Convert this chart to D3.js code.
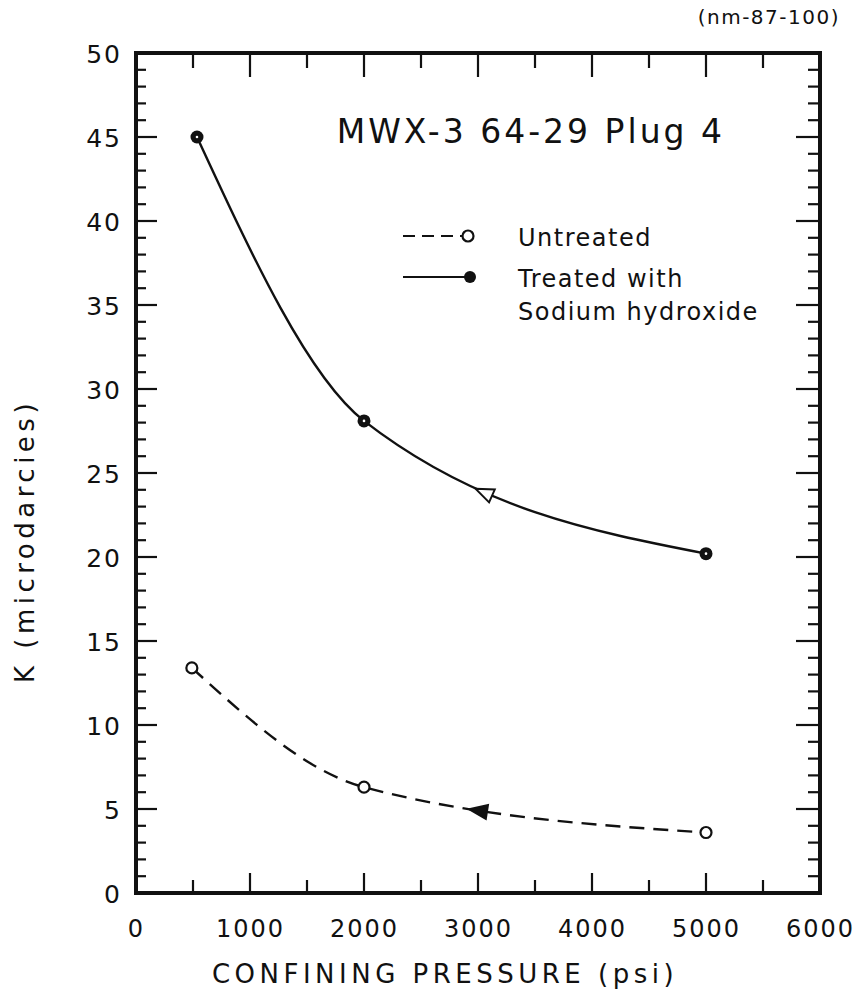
<!DOCTYPE html>
<html>
<head>
<meta charset="utf-8">
<script src="https://cdn.jsdelivr.net/npm/d3@7"></script>
<style>
  html, body { margin: 0; padding: 0; background: #fff; }
  svg { display: block; }
  text { font-family: "DejaVu Sans", "Liberation Sans", sans-serif; fill: #111; }
</style>
</head>
<body>
<svg id="chart" width="864" height="995"></svg>
<script>
// ---- data ----
const xTickValues = [0, 1000, 2000, 3000, 4000, 5000, 6000];
const xTickLabels = ["0", "1000", "2000", "3000", "4000", "5000", "6000"];
const yTickValues = [0, 5, 10, 15, 20, 25, 30, 35, 40, 45, 50];
const yTickLabels = ["0", "5", "10", "15", "20", "25", "30", "35", "40", "45", "50"];

const untreatedPressure = [490, 2000, 5000];
const untreatedK = [13.4, 6.3, 3.6];
const treatedPressure = [535, 2000, 5000];
const treatedK = [45, 28.1, 20.2];
// positions (pressure) of the direction arrows: [treated, untreated]
const arrowPressure = [3050, 3000];

const seriesNames = ["Untreated", "Treated with", "Sodium hydroxide"];
const chartTitle = "MWX-3 64-29 Plug 4";
const chartNote = "(nm-87-100)";
const xTitle = "CONFINING PRESSURE (psi)";
const yTitle = "K (microdarcies)";

// ---- layout ----
const svg = d3.select("#chart");
const x = d3.scaleLinear().domain([0, 6000]).range([136, 820]);
const y = d3.scaleLinear().domain([0, 50]).range([893, 53]);

const xMinor = d3.range(500, 6000, 500);
const yMinor = d3.range(1, 50, 1);
function isMajorX(v) { return v % 1000 === 0; }
function isMajorY(v) { return v % 5 === 0; }

const tickG = svg.append("g").attr("stroke", "#111").attr("stroke-width", 2.2);
tickG.selectAll(".tb").data(xMinor).join("line")
  .attr("x1", d => x(d)).attr("x2", d => x(d))
  .attr("y1", y(0)).attr("y2", d => y(0) - (isMajorX(d) ? 20 : 13));
tickG.selectAll(".tt").data(xMinor).join("line")
  .attr("x1", d => x(d)).attr("x2", d => x(d))
  .attr("y1", y(50)).attr("y2", d => y(50) + (isMajorX(d) ? 24 : 15));
tickG.selectAll(".tl").data(yMinor).join("line")
  .attr("y1", d => y(d)).attr("y2", d => y(d))
  .attr("x1", x(0)).attr("x2", d => x(0) + (isMajorY(d) ? 21 : 10));
tickG.selectAll(".tr").data(yMinor).join("line")
  .attr("y1", d => y(d)).attr("y2", d => y(d))
  .attr("x1", x(6000)).attr("x2", d => x(6000) - (isMajorY(d) ? 24 : 12));

// frame
svg.append("rect")
  .attr("x", x(0)).attr("y", y(50))
  .attr("width", x(6000) - x(0)).attr("height", y(0) - y(50))
  .attr("fill", "none").attr("stroke", "#111").attr("stroke-width", 4);

// tick labels using axes
const xAxis = d3.axisBottom(x).tickValues(xTickValues)
  .tickFormat((d, i) => xTickLabels[i]).tickSize(0).tickPadding(0);
const gx = svg.append("g").attr("transform", `translate(0,${y(0)})`).call(xAxis);
gx.select(".domain").remove();
gx.selectAll("text").attr("dy", null).attr("y", 44)
  .style("font-size", "24px").style("letter-spacing", "2px").attr("fill", "#111")
  .style("font-family", "'DejaVu Sans', sans-serif");

const yAxis = d3.axisLeft(y).tickValues(yTickValues)
  .tickFormat((d, i) => yTickLabels[i]).tickSize(0).tickPadding(0);
const gy = svg.append("g").attr("transform", `translate(${x(0)},0)`).call(yAxis);
gy.select(".domain").remove();
gy.selectAll("text").attr("x", -14).attr("dy", "0.36em")
  .style("font-size", "25px").style("letter-spacing", "2px").attr("fill", "#111")
  .style("font-family", "'DejaVu Sans', sans-serif");

// axis titles
svg.append("text").attr("x", 445).attr("y", 983).attr("text-anchor", "middle")
  .style("font-size", "26px").style("letter-spacing", "4.5px").text(xTitle);
svg.append("text").attr("transform", "translate(34,541) rotate(-90)")
  .attr("text-anchor", "middle")
  .style("font-size", "26px").style("letter-spacing", "4.5px").text(yTitle);

// chart title + note
svg.append("text").attr("x", 725).attr("y", 143).attr("text-anchor", "end")
  .style("font-size", "33px").style("letter-spacing", "3px").text(chartTitle);
svg.append("text").attr("x", 840).attr("y", 24).attr("text-anchor", "end")
  .style("font-size", "20px").style("letter-spacing", "1.5px").text(chartNote);

// ---- curves ----
const untreated = untreatedPressure.map((p, i) => [p, untreatedK[i]]);
const treated = treatedPressure.map((p, i) => [p, treatedK[i]]);
const line = d3.line().x(d => x(d[0])).y(d => y(d[1])).curve(d3.curveMonotoneX);

const pU = svg.append("path").attr("d", line(untreated)).attr("fill", "none")
  .attr("stroke", "#111").attr("stroke-width", 2.4).attr("stroke-dasharray", "15,9");
const pT = svg.append("path").attr("d", line(treated)).attr("fill", "none")
  .attr("stroke", "#111").attr("stroke-width", 2.4);

// arrows, located on the curve at a pressure value
function pointAtX(pathNode, px) {
  const L = pathNode.getTotalLength();
  let lo = 0, hi = L;
  for (let k = 0; k < 40; k++) {
    const mid = (lo + hi) / 2;
    if (pathNode.getPointAtLength(mid).x < px) lo = mid; else hi = mid;
  }
  const l = (lo + hi) / 2;
  const p = pathNode.getPointAtLength(l);
  const p2 = pathNode.getPointAtLength(Math.max(0, l - 4));
  const ang = Math.atan2(p2.y - p.y, p2.x - p.x) * 180 / Math.PI;
  return { x: p.x, y: p.y, ang };
}
const arrowDefs = [
  { node: pT.node(), px: x(arrowPressure[0]), fill: "#fff" },
  { node: pU.node(), px: x(arrowPressure[1]), fill: "#111" }
];
arrowDefs.forEach(a => {
  const pt = pointAtX(a.node, a.px);
  svg.append("path")
    .attr("d", "M-9,0 L9,-7 L9,7 Z")
    .attr("transform", `translate(${pt.x},${pt.y}) rotate(${pt.ang + 180})`)
    .attr("fill", a.fill).attr("stroke", "#111").attr("stroke-width", 2);
});

// ---- markers ----
svg.selectAll(".mu").data(untreated).join("circle")
  .attr("cx", d => x(d[0])).attr("cy", d => y(d[1])).attr("r", 5.5)
  .attr("fill", "#fff").attr("stroke", "#111").attr("stroke-width", 2.2);
svg.selectAll(".mt").data(treated).join("circle")
  .attr("cx", d => x(d[0])).attr("cy", d => y(d[1])).attr("r", 6.5)
  .attr("fill", "#111");
svg.selectAll(".mtc").data(treated).join("circle")
  .attr("cx", d => x(d[0])).attr("cy", d => y(d[1])).attr("r", 1.3)
  .attr("fill", "#fff");

// ---- legend ----
const lg = svg.append("g");
lg.append("line").attr("x1", 403).attr("x2", 462).attr("y1", 236).attr("y2", 236)
  .attr("stroke", "#111").attr("stroke-width", 2.2).attr("stroke-dasharray", "12,7");
lg.append("circle").attr("cx", 468).attr("cy", 236).attr("r", 5.5)
  .attr("fill", "#fff").attr("stroke", "#111").attr("stroke-width", 2.2);
lg.append("line").attr("x1", 403).attr("x2", 466).attr("y1", 277).attr("y2", 277)
  .attr("stroke", "#111").attr("stroke-width", 2.2);
lg.append("circle").attr("cx", 470).attr("cy", 277).attr("r", 6).attr("fill", "#111");
lg.append("text").attr("x", 518).attr("y", 246).style("font-size", "24px")
  .style("letter-spacing", "1.5px").text(seriesNames[0]);
lg.append("text").attr("x", 518).attr("y", 287).style("font-size", "24px")
  .style("letter-spacing", "1.5px").text(seriesNames[1]);
lg.append("text").attr("x", 518).attr("y", 320).style("font-size", "24px")
  .style("letter-spacing", "1.5px").text(seriesNames[2]);
</script>
</body>
</html>
